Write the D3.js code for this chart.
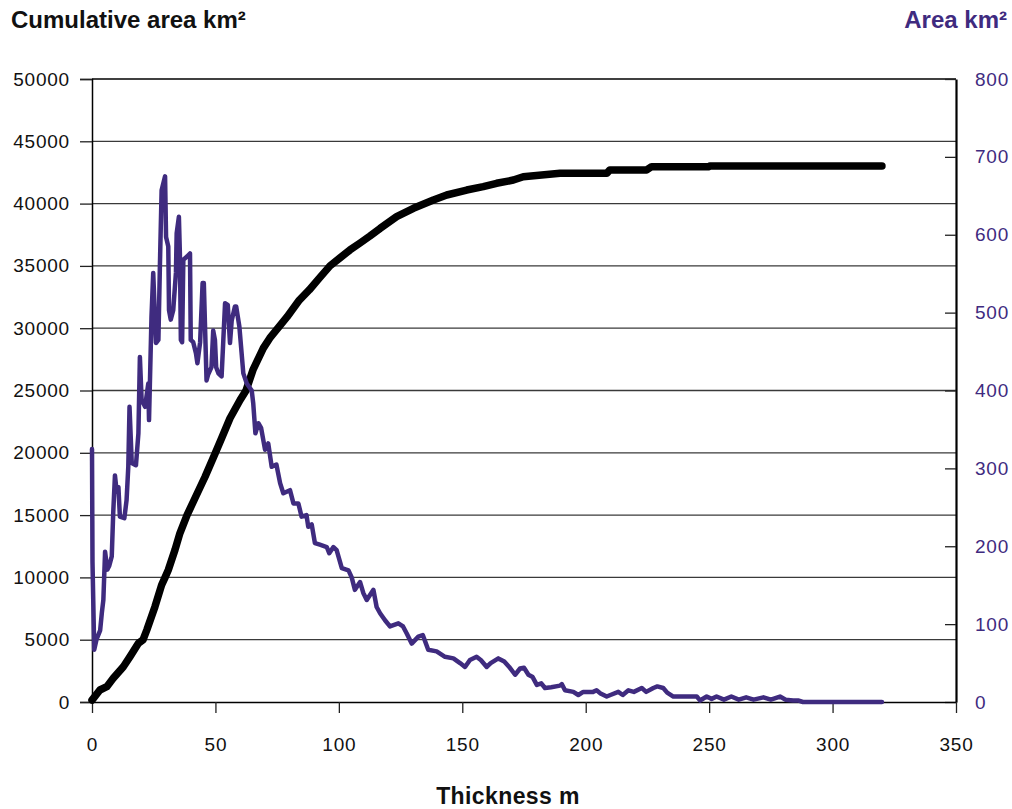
<!DOCTYPE html>
<html>
<head>
<meta charset="utf-8">
<script src="https://cdn.jsdelivr.net/npm/d3@7"></script>
<style>
  body { margin: 0; background: #fff; }
  svg { font-family: "Liberation Sans", Arial, sans-serif; }
</style>
</head>
<body>
<svg></svg>
<script>
var width = 1012;
var height = 809;
var purple = "#3f2b7f";

// thickness (m) and area per bin (km2), right axis
var areaThickness = [0, 0.2, 0.9, 1.8, 3.3, 4.0, 4.6, 5.3, 6.2, 7, 8, 8.6, 9.3, 10, 10.7, 11.3, 13.1, 14, 14.7, 15.2,
  16.1, 17.8, 18.8, 19.4, 20.1, 21.5, 22.8, 23.1, 24.1, 24.8, 25.9, 26.9, 27.5, 28.2, 29.6, 30, 30.9, 31.2, 31.9, 32.9,
  34, 34.3, 35.2, 35.6, 36, 36.5, 37, 38.5, 39.7, 40, 41, 42.1, 42.7, 43.8, 44.8, 45.3, 46.4, 47, 48.4, 49.1,
  49.8, 50.3, 51.2, 52.5, 53.2, 53.9, 55, 55.9, 56.6, 57.9, 58.4, 59.7, 61.3, 62.7, 64.7, 65.3, 66.2, 67.4, 68.5, 70.1,
  71.4, 72.8, 74.7, 76.2, 77.5, 80.2, 81.6, 83.6, 84.9, 86.9, 87.6, 89, 90.3, 92.3, 95.1, 96.1, 97.8, 99.1, 101.2, 103.9,
  105.2, 106.5, 108.6, 109.9, 111.3, 114, 115.3, 116.7, 118.7, 120.7, 124.1, 126, 127.5, 129.5, 132.2, 134, 136.2, 139.6, 143, 146.4,
  149.1, 151.1, 153.1, 155.8, 157.5, 159.9, 161.5, 164.6, 167, 169, 171.4, 173.4, 175, 176.8, 178.5, 180.2, 182, 183.5, 186, 189.6,
  190.3, 191.6, 195, 197, 199, 203, 204.4, 206, 208.5, 210, 213.2, 215, 217.3, 219.5, 222.7, 224.5, 227.4, 229, 231.4, 233,
  235.5, 245, 246.3, 249, 251, 253, 256, 259, 262, 265, 268, 272, 275, 278.7, 281, 284, 286, 288, 320];
var areaValues = [325, 180, 67, 80, 92, 115, 131, 193, 170, 175, 187, 243, 291, 270, 276, 238, 236, 259, 302, 379,
  307, 304, 345, 443, 388, 379, 409, 362, 495, 551, 461, 465, 559, 657, 675, 597, 585, 503, 491, 503,
  551, 602, 623, 576, 465, 462, 568, 572, 576, 465, 462, 448, 435, 462, 538, 538, 413, 420, 430, 477,
  465, 430, 422, 418, 465, 512, 510, 461, 490, 508, 508, 482, 422, 409, 400, 384, 345, 358, 352, 324,
  332, 302, 305, 281, 268, 272, 255, 255, 238, 240, 225, 228, 204, 202, 199, 191, 199, 195, 172, 169,
  160, 144, 154, 140, 131, 144, 122, 114, 105, 97, 101, 97, 88, 75, 84, 86, 67, 65, 58, 56,
  50, 45, 54, 58, 54, 45, 50, 56, 52, 45, 35, 43, 44, 35, 32, 22, 24, 18, 19, 21,
  23, 15, 13, 9, 13, 13, 15, 11, 7, 9, 13, 9, 15, 13, 18, 13, 18, 20, 18, 12,
  7, 7, 2, 7, 4, 7, 3, 7, 3, 6, 3, 6, 3, 7, 3, 2, 2, 0, 0];

// thickness (m) and cumulative area (km2), left axis
var cumThickness = [0, 3.2, 6, 8.6, 12.7, 15.4, 18.8, 20.7, 22.2, 25.5, 28.2, 29.6, 30.9, 33.6, 35.6, 38.5, 41.7, 45.8, 50, 52.5,
  55.9, 60, 62.4, 65.3, 69.4, 72, 75.3, 79, 84, 88, 92, 96.4, 100.4, 104.5, 108.6, 112.6, 116.7, 123.4, 130.2, 138.3,
  143.7, 151.8, 158.5, 163.9, 170.7, 174.7, 189.6, 208.5, 209.8, 224.7, 226.7, 250, 250.3, 320];
var cumArea = [150, 963, 1230, 1900, 2830, 3640, 4710, 5000, 5780, 7650, 9390, 10000, 10590, 12200, 13540, 15000, 16350, 18080, 20000, 21160,
  22770, 24240, 25000, 26700, 28400, 29200, 30000, 30900, 32260, 33070, 34000, 35000, 35630, 36280, 36840, 37400, 38010, 38950, 39620, 40290,
  40690, 41090, 41360, 41630, 41890, 42160, 42430, 42430, 42700, 42700, 42960, 42960, 43020, 43020];

var leftTicks = [0, 5000, 10000, 15000, 20000, 25000, 30000, 35000, 40000, 45000, 50000];
var rightTicks = [0, 100, 200, 300, 400, 500, 600, 700, 800];
var xTicks = [0, 50, 100, 150, 200, 250, 300, 350];

var svg = d3.select("svg").attr("width", width).attr("height", height);

var padding = { top: 79, right: 956, bottom: 702, left: 92 };

var xScale = d3.scaleLinear().domain([0, 350]).range([padding.left, padding.right]);
var yLeft = d3.scaleLinear().domain([0, 50000]).range([padding.bottom, padding.top]);
var yRight = d3.scaleLinear().domain([0, 800]).range([padding.bottom, padding.top]);

// gridlines
svg.append("g")
  .selectAll("line")
  .data(leftTicks.slice(1))
  .enter()
  .append("line")
  .attr("x1", padding.left)
  .attr("x2", padding.right)
  .attr("y1", d => yLeft(d))
  .attr("y2", d => yLeft(d))
  .attr("stroke", d => d === 50000 ? "#000" : "#3a3a3a")
  .attr("stroke-width", 1.3);

// axes
var leftAxis = svg.append("g")
  .attr("transform", "translate(" + padding.left + ",0)")
  .call(d3.axisLeft(yLeft).tickValues(leftTicks).tickFormat(d3.format("d")).tickSize(12).tickPadding(10));

var rightAxis = svg.append("g")
  .attr("transform", "translate(" + padding.right + ",0)")
  .call(d3.axisRight(yRight).tickValues(rightTicks).tickSizeInner(-11).tickSizeOuter(0).tickPadding(19));

var bottomAxis = svg.append("g")
  .attr("transform", "translate(0," + padding.bottom + ")")
  .call(d3.axisBottom(xScale).tickValues(xTicks).tickSizeInner(11).tickSizeOuter(0).tickPadding(25));

svg.selectAll(".tick text")
  .style("font-size", "19px")
  .style("letter-spacing", "0.8px");
leftAxis.selectAll(".tick text").attr("fill", "#111");
bottomAxis.selectAll(".tick text").attr("fill", "#111");
rightAxis.selectAll(".tick text").attr("fill", purple);
svg.selectAll(".tick line").attr("stroke", "#222").attr("stroke-width", 1.3);
leftAxis.select(".domain").attr("stroke", "#000").attr("stroke-width", 1.5);
bottomAxis.select(".domain").attr("stroke", "#000").attr("stroke-width", 1.5);
rightAxis.select(".domain").attr("stroke", "#000").attr("stroke-width", 2.2);

// cumulative area line
var cumLine = d3.line()
  .x((d, i) => xScale(cumThickness[i]))
  .y(d => yLeft(d));

svg.append("path")
  .datum(cumArea)
  .attr("d", cumLine)
  .attr("fill", "none")
  .attr("stroke", "#000")
  .attr("stroke-width", 7.5)
  .attr("stroke-linejoin", "round")
  .attr("stroke-linecap", "round");

// area per thickness line
var areaLine = d3.line()
  .x((d, i) => xScale(areaThickness[i]))
  .y(d => yRight(d));

svg.append("path")
  .datum(areaValues)
  .attr("d", areaLine)
  .attr("fill", "none")
  .attr("stroke", purple)
  .attr("stroke-width", 4.5)
  .attr("stroke-linejoin", "round")
  .attr("stroke-linecap", "round");

// titles
svg.append("text")
  .attr("x", 11)
  .attr("y", 28)
  .attr("font-size", 24)
  .attr("font-weight", "bold")
  .attr("fill", "#111")
  .text("Cumulative area km²");

svg.append("text")
  .attr("x", 1007)
  .attr("y", 28)
  .attr("text-anchor", "end")
  .attr("font-size", 24)
  .attr("font-weight", "bold")
  .attr("fill", purple)
  .text("Area km²");

svg.append("text")
  .attr("x", 508)
  .attr("y", 804)
  .attr("text-anchor", "middle")
  .attr("font-size", 23)
  .attr("font-weight", "bold")
  .attr("letter-spacing", "0.4px")
  .attr("fill", "#111")
  .text("Thickness m");
</script>
</body>
</html>
